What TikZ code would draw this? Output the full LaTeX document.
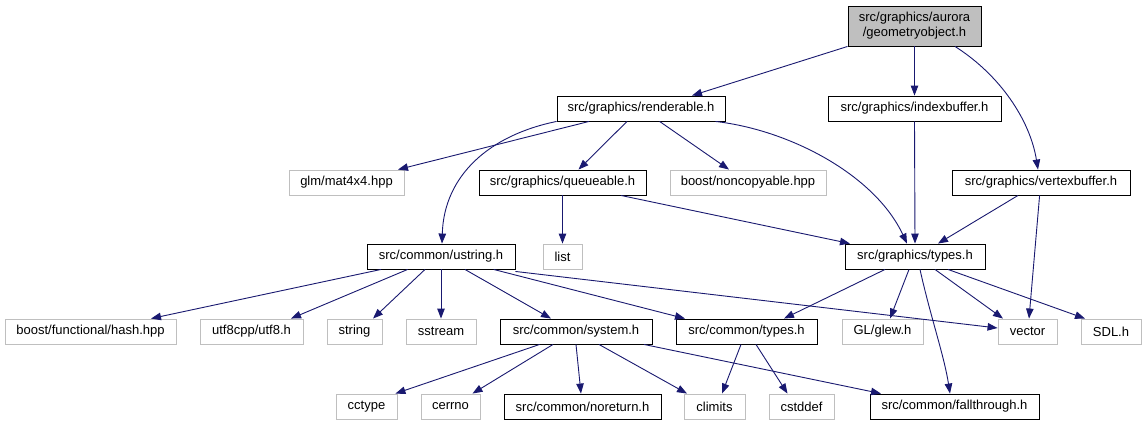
\documentclass[tikz,border=0pt]{standalone}
\usepackage{fontspec}
\setmainfont{Liberation Sans}
\usetikzlibrary{arrows.meta}
\definecolor{edgeblue}{HTML}{191970}
\definecolor{grey75}{HTML}{BFBFBF}
\begin{document}
\begin{tikzpicture}[x=1bp,y=-1bp,
  box/.style={draw=black, line width=0.9bp, minimum height=25bp, inner sep=0pt,
    font=\fontsize{13bp}{15bp}\selectfont, text=black},
  ext/.style={box, draw=grey75},
  root/.style={box, fill=grey75, minimum height=40bp, align=center},
  dep/.style={draw=edgeblue, line width=0.9bp, -{Triangle[length=10bp,width=7.5bp]}, fill=none},
]
\useasboundingbox (0,0) rectangle (1145,425);
\fill[white] (0,0) rectangle (1145,425);

% row 0
\node[root, minimum width=133bp] (geom) at (914.5,26) {src/graphics/aurora\\/geometryobject.h};
% row 1
\node[box, minimum width=168bp] (rend) at (641,108.5) {src/graphics/renderable.h};
\node[box, minimum width=173bp] (idx) at (914.5,108.5) {src/graphics/indexbuffer.h};
% row 2
\node[ext, minimum width=115bp] (glm) at (346.5,182.5) {glm/mat4x4.hpp};
\node[box, minimum width=167bp] (queue) at (562.5,182.5) {src/graphics/queueable.h};
\node[ext, minimum width=156bp] (noncop) at (748,182.5) {boost/noncopyable.hpp};
\node[box, minimum width=178bp] (vbuf) at (1041,182.5) {src/graphics/vertexbuffer.h};
% row 3
\node[box, minimum width=148bp] (ustring) at (441,256.5) {src/common/ustring.h};
\node[ext, minimum width=39bp] (list) at (562.5,256.5) {list};
\node[box, minimum width=140bp] (gtypes) at (915,256.5) {src/graphics/types.h};
% row 4
\node[ext, minimum width=171bp] (hash) at (90.5,331.5) {boost/functional/hash.hpp};
\node[ext, minimum width=103bp] (utf8) at (251.5,331.5) {utf8cpp/utf8.h};
\node[ext, minimum width=55bp] (string) at (354.5,331.5) {string};
\node[ext, minimum width=70bp] (sstream) at (441,331.5) {sstream};
\node[box, minimum width=152bp] (system) at (576,331.5) {src/common/system.h};
\node[box, minimum width=141bp] (ctypes) at (746.5,331.5) {src/common/types.h};
\node[ext, minimum width=81bp] (glew) at (882.5,331.5) {GL/glew.h};
\node[ext, minimum width=59bp] (vector) at (1027.5,331.5) {vector};
\node[ext, minimum width=60bp] (sdl) at (1111,331.5) {SDL.h};
% row 5
\node[ext, minimum width=61bp] (cctype) at (366.5,406.5) {cctype};
\node[ext, minimum width=59bp] (cerrno) at (450.5,406.5) {cerrno};
\node[box, minimum width=157bp] (noreturn) at (582.5,406.5) {src/common/noreturn.h};
\node[ext, minimum width=61bp] (climits) at (714.5,406.5) {climits};
\node[ext, minimum width=65bp] (cstddef) at (801.5,406.5) {cstddef};
\node[box, minimum width=169bp] (fall) at (954.5,406.5) {src/common/fallthrough.h};

% edges from geometryobject
\draw[dep] (geom.south west) -- ([xshift=51bp]rend.north);
\draw[dep] (geom.south) -- (idx.north);
\draw[dep] ([xshift=40.5bp]geom.south) .. controls (1000,75) and (1030,120) .. ([xshift=-3bp]vbuf.north);

% edges from renderable
\draw[dep] ([xshift=-52bp]rend.south) -- ([xshift=51.5bp]glm.north);
\draw[dep] ([xshift=-14bp]rend.south) -- ([xshift=16bp]queue.north);
\draw[dep] ([xshift=18.6bp]rend.south) -- ([xshift=-19bp]noncop.north);
\draw[dep] (rend.south west) .. controls (490,135) and (444,175) .. ([xshift=1bp]ustring.north);
\draw[dep] ([xshift=74.5bp]rend.south) .. controls (790,130) and (875,175) .. ([xshift=-8bp]gtypes.north);

% queueable
\draw[dep] (queue.south) -- (list.north);
\draw[dep] ([xshift=58.5bp]queue.south) -- ([xshift=-65bp]gtypes.north);

% indexbuffer
\draw[dep] (idx.south) -- (gtypes.north);

% vertexbuffer
\draw[dep] ([xshift=-23bp]vbuf.south) -- ([xshift=23bp]gtypes.north);
\draw[dep] ([xshift=-1.4bp]vbuf.south) -- ([xshift=1.5bp]vector.north);

% ustring
\draw[dep] ([xshift=-60bp]ustring.south) -- ([xshift=60.5bp]hash.north);
\draw[dep] ([xshift=-33.4bp]ustring.south) -- ([xshift=39.5bp]utf8.north);
\draw[dep] ([xshift=-16bp]ustring.south) -- ([xshift=18.5bp]string.north);
\draw[dep] (ustring.south) -- (sstream.north);
\draw[dep] ([xshift=24bp]ustring.south) -- ([xshift=-25bp]system.north);
\draw[dep] ([xshift=52.7bp]ustring.south) -- ([xshift=-61.5bp]ctypes.north);
\draw[dep] ([yshift=-2bp]ustring.south east) -- ([yshift=3.5bp]vector.west);

% graphics/types
\draw[dep] ([xshift=-30bp]gtypes.south) -- ([xshift=37.5bp]ctypes.north);
\draw[dep] ([xshift=-6bp]gtypes.south) -- ([xshift=7.5bp]glew.north);
\draw[dep] ([xshift=5bp]gtypes.south) .. controls (930,315) and (944,355) .. ([xshift=-4.5bp]fall.north);
\draw[dep] ([xshift=20bp]gtypes.south) -- ([xshift=-24.5bp]vector.north);
\draw[dep] ([xshift=33bp]gtypes.south) -- ([xshift=-26bp]sdl.north);

% system
\draw[dep] ([xshift=-36.4bp]system.south) -- ([xshift=-2bp]cctype.north east);
\draw[dep] ([xshift=-23bp]system.south) -- ([xshift=22bp]cerrno.north);
\draw[dep] (system.south) -- ([xshift=-1.5bp]noreturn.north);
\draw[dep] ([xshift=23bp]system.south) -- ([xshift=-27.5bp]climits.north);
\draw[dep] ([xshift=68bp]system.south) -- ([xshift=-73.5bp]fall.north);

% common/types
\draw[dep] ([xshift=-5.5bp]ctypes.south) -- ([xshift=7.5bp]climits.north);
\draw[dep] ([xshift=9.5bp]ctypes.south) -- ([xshift=-14bp]cstddef.north);
\end{tikzpicture}
\end{document}
